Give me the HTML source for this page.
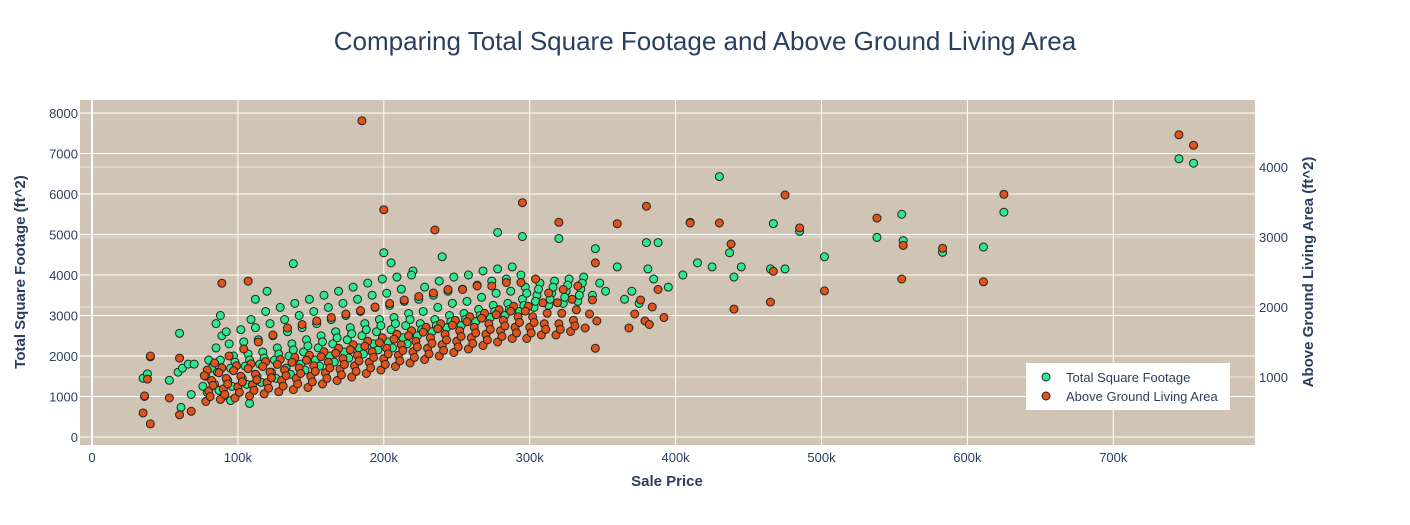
<!DOCTYPE html>
<html><head><meta charset="utf-8">
<style>
body{margin:0;background:#fff;}
svg{display:block;font-family:"Liberation Sans",sans-serif;}
</style></head>
<body>
<svg id="chart" width="1410" height="525">
<text x="705" y="50" text-anchor="middle" font-size="26" fill="#2a3f5f">Comparing Total Square Footage and Above Ground Living Area</text>
<rect x="80" y="100" width="1175" height="345" fill="#d0c4b4"/>
<g id="grid"></g>
<g id="ticks" font-size="13" fill="#2a3f5f"></g>
<g id="marks"></g>
<text x="667" y="486" text-anchor="middle" font-size="15" font-weight="bold" fill="#2a3f5f">Sale Price</text>
<text transform="translate(25,272) rotate(-90)" text-anchor="middle" font-size="15" font-weight="bold" fill="#2a3f5f">Total Square Footage (ft^2)</text>
<text transform="translate(1313,272) rotate(-90)" text-anchor="middle" font-size="15" font-weight="bold" fill="#2a3f5f">Above Ground Living Area (ft^2)</text>
<g>
<rect x="1026" y="363" width="204" height="47" fill="#fff"/>
<g>
<circle cx="1046" cy="377" r="4" fill="#2ee88e" stroke="#222" stroke-width="1"/>
<text x="1066" y="382" font-size="13" fill="#2a3f5f">Total Square Footage</text></g>
<g>
<circle cx="1046" cy="396" r="4" fill="#e0541a" stroke="#222" stroke-width="1"/>
<text x="1066" y="401" font-size="13" fill="#2a3f5f">Above Ground Living Area</text></g>
</g>
</svg>
<script>
const xTicks=[0,100,200,300,400,500,600,700];
const xTickLabels=["0","100k","200k","300k","400k","500k","600k","700k"];
const leftTicks=[0,1000,2000,3000,4000,5000,6000,7000,8000];
const rightTicks=[1000,2000,3000,4000];
// Sale price (k$) and Total SF for green series
const greenX=[35,36,38,40,53,60,61,59,62,66,68,70,85,88,90,95,108,112,120,138,200,205,220,240,278,295,320,345,360,380,388,381,395,405,410,415,425,430,437,440,445,465,467,475,485,502,538,555,556,583,611,625,745,755,
76,78,80,79,82,
84,86,88,85,87,89,
93,95,97,94,96,98,92,
103,105,107,104,106,108,102,109,
113,115,117,114,116,118,112,119,
123,125,127,124,126,128,122,129,
133,135,137,134,136,138,132,139,
143,145,147,144,146,148,142,149,
153,155,157,154,156,158,152,159,
163,165,167,164,166,168,162,169,
173,175,177,174,176,178,172,179,
183,185,187,184,186,188,182,189,
193,195,197,194,196,198,192,199,
203,205,207,204,206,208,202,209,
213,215,217,214,216,218,212,219,
223,225,227,224,226,228,
233,235,237,234,236,238,
243,245,247,244,246,248,
253,255,257,254,256,258,
263,265,267,264,266,268,
273,275,277,274,276,278,
283,285,287,284,286,288,
293,295,297,294,296,298,
303,305,307,304,306,
313,315,317,314,316,
323,325,327,324,326,
333,335,337,334,336,
343,348,352,
365,370,375,385];
const greenY=[1450,1000,1560,1980,1400,2560,730,1600,1700,1800,1050,1800,2800,3000,1000,900,830,3400,3600,4280,4550,4300,4100,4450,5050,4950,4900,4650,4200,4800,4800,4150,3700,4000,5300,4300,4200,6430,4550,3950,4200,4150,5270,4150,5080,4450,4930,5500,4850,4560,4690,5550,6870,6760,
1250,1500,1900,1100,1700,
1300,1600,1900,2200,1150,2500,
1400,1700,2000,2300,1250,1850,2600,
1450,1750,2050,2350,1300,1900,2650,2900,
1500,1800,2100,2400,1350,1950,2700,3100,
1600,1900,2200,2500,1450,2050,2800,3200,
1700,2000,2300,2600,1550,2150,2900,3300,
1800,2100,2400,2700,1650,2250,3000,3400,
1900,2200,2500,2800,1750,2350,3100,3500,
2000,2300,2600,2900,1850,2450,3200,3600,
2100,2400,2700,3000,1950,2550,3300,3700,
2200,2500,2800,3100,2050,2650,3400,3800,
2300,2600,2900,3200,2150,2750,3500,3900,
2350,2650,2950,3250,2200,2800,3550,3950,
2450,2750,3050,3350,2300,2900,3650,4000,
2500,2800,3100,3400,2650,3700,
2600,2900,3200,3500,2750,3850,
2700,3000,3300,3600,2850,3950,
2750,3050,3350,3650,2900,4000,
2850,3150,3450,3750,3000,4100,
2950,3250,3550,3850,3100,4150,
3000,3300,3600,3900,3150,4200,
3100,3400,3700,4000,3250,3550,
3200,3500,3800,3350,3650,
3250,3550,3850,3400,3700,
3300,3600,3900,3450,3750,
3350,3650,3950,3500,3800,
3500,3800,3600,
3400,3600,3300,3900];
// Sale price (k$) and above-ground living area for orange series
const orangeX=[35,36,38,40,40,53,60,60,68,89,107,185,200,235,295,320,360,380,410,430,438,440,465,467,475,485,502,538,555,556,583,611,625,745,755,345,345,
78,80,82,79,81,83,77,84,
88,90,92,89,91,93,87,94,
98,100,102,99,101,103,97,104,
108,110,112,109,111,113,107,114,
118,120,122,119,121,123,117,124,
128,130,132,129,131,133,127,134,
138,140,142,139,141,143,137,144,
148,150,152,149,151,153,147,154,
158,160,162,159,161,163,157,164,
168,170,172,169,171,173,167,174,
178,180,182,179,181,183,177,184,
188,190,192,189,191,193,187,194,
198,200,202,199,201,203,197,204,
208,210,212,209,211,213,207,214,
218,220,222,219,221,223,217,224,
228,230,232,229,231,233,227,234,
238,240,242,239,241,243,237,244,
248,250,252,249,251,253,247,254,
258,260,262,259,261,263,257,264,
268,270,272,269,271,273,267,274,
278,280,282,279,281,283,277,284,
288,290,292,289,291,293,287,294,
298,300,302,299,301,303,297,304,
308,310,312,309,311,313,
318,320,322,319,321,323,
328,330,332,329,331,333,
338,341,343,346,
368,372,376,379,
382,384,388,392];
const orangeY=[486,730,970,1300,330,700,1270,460,510,2340,2370,4660,3390,3100,3490,3210,3190,3440,3200,3200,2900,1970,2070,2510,3600,3130,2230,3270,2400,2880,2840,2360,3610,4460,4310,2630,1410,
650,800,950,1100,720,880,1020,1200,
680,830,980,1130,750,900,1060,1300,
700,860,1010,1160,780,930,1090,1400,
730,890,1040,1190,810,960,1120,1500,
760,920,1070,1220,840,990,1150,1600,
790,950,1100,1250,870,1020,1180,1700,
820,980,1130,1280,900,1050,1210,1750,
850,1010,1160,1310,930,1080,1240,1800,
900,1060,1210,1360,980,1130,1290,1850,
950,1110,1260,1410,1030,1180,1340,1900,
1000,1160,1310,1460,1080,1230,1390,1950,
1050,1210,1360,1510,1130,1280,1440,2000,
1100,1260,1410,1560,1180,1330,1490,2050,
1150,1310,1460,1610,1230,1380,1540,2100,
1200,1360,1510,1660,1280,1430,1590,2150,
1250,1410,1560,1710,1330,1480,1640,2200,
1300,1460,1610,1760,1380,1530,1690,2250,
1350,1510,1660,1810,1430,1580,1740,2250,
1400,1560,1710,1860,1480,1630,1790,2300,
1450,1610,1760,1910,1530,1680,1840,2300,
1500,1660,1810,1960,1580,1730,1890,2350,
1550,1710,1860,2010,1630,1780,1940,2350,
1550,1710,1860,2010,1630,1780,1940,2400,
1600,1760,1910,2060,1680,2200,
1600,1760,1910,2060,1680,2250,
1650,1810,1960,2110,1730,2300,
1700,1900,2100,1800,
1700,1900,2100,1800,
1750,2000,2250,1850];
const NS="http://www.w3.org/2000/svg";
const xS=p=>92+p*1.459;
const yL=v=>437-v*0.0405;
const yR=v=>447-v*0.07;
const grid=document.getElementById('grid');
const ticks=document.getElementById('ticks');
const marks=document.getElementById('marks');
function mk(tag,attrs,parent){const e=document.createElementNS(NS,tag);for(const k in attrs)e.setAttribute(k,attrs[k]);parent.appendChild(e);return e;}
rightTicks.forEach(v=>{const l=mk('line',{x1:80,x2:1255,y1:yR(v),y2:yR(v),stroke:'#ebe6df','stroke-width':1},grid);


const t=mk('text',{x:1259,y:yR(v)+5},ticks);t.textContent=v;

});
leftTicks.forEach(v=>{const l=mk('line',{x1:80,x2:1255,y1:yL(v),y2:yL(v),stroke:'#fff','stroke-width':1},grid);


const t=mk('text',{x:78,y:yL(v)+5,'text-anchor':'end'},ticks);t.textContent=v;

});
xTicks.forEach((v,i)=>{const l=mk('line',{x1:xS(v),x2:xS(v),y1:100,y2:445,stroke:'#fff','stroke-width':v===0?2:1},grid);


const t=mk('text',{x:xS(v),y:462,'text-anchor':'middle'},ticks);t.textContent=xTickLabels[i];

});
const nG=Math.min(greenX.length,greenY.length);
for(let i=0;i<nG;i++){const c=mk('circle',{cx:xS(greenX[i]),cy:yL(greenY[i]),r:4,fill:'#2ee88e',stroke:'#222','stroke-width':1},marks);

}
const nO=Math.min(orangeX.length,orangeY.length);
for(let i=0;i<nO;i++){const c=mk('circle',{cx:xS(orangeX[i]),cy:yR(orangeY[i]),r:4,fill:'#e0541a',stroke:'#222','stroke-width':1},marks);

}
</script>
</body></html>
